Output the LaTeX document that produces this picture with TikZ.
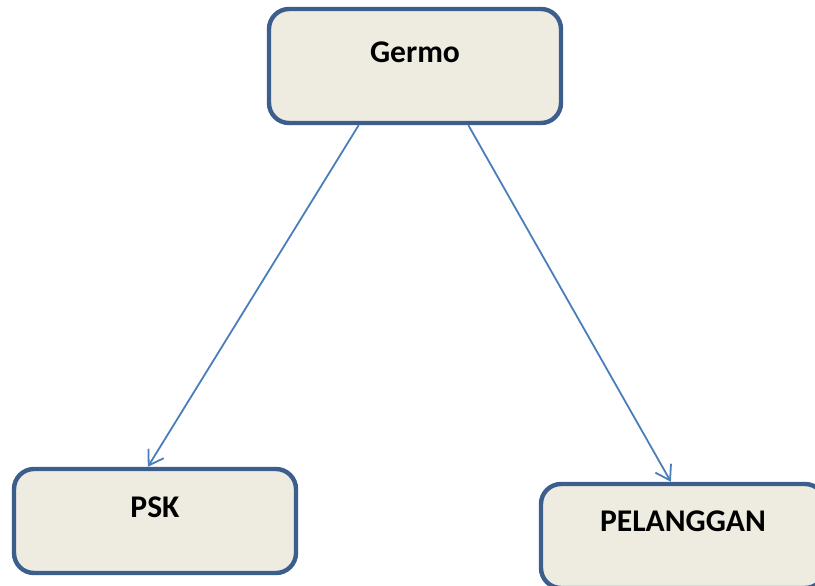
\documentclass[tikz,border=0pt]{standalone}
\usepackage{fontspec}
\setmainfont{Carlito}
\usetikzlibrary{calc,arrows.meta}

\definecolor{boxline}{HTML}{3B5E8C}
\definecolor{boxfill}{HTML}{EEECE1}
\definecolor{arrline}{HTML}{4A7EBB}

\begin{document}
\begin{tikzpicture}[x=0.5pt,y=-0.5pt]

% ---------- frame ----------
\useasboundingbox (0,0) rectangle (815,585);
\clip (0,0) rectangle (815,585);

% ---------- styles ----------
\tikzset{
  role/.style={draw=boxline,fill=boxfill,line width=2.2pt,rounded corners=10pt,
    inner xsep=0pt,inner ysep=0pt,font=\bfseries\fontsize{15.8}{19}\selectfont},
  link/.style={draw=arrline,line width=0.9pt,-{Straight Barb[length=7pt,width=9pt]}}
}

% ---------- boxes ----------
\node[role,minimum width=146pt,text height=26.5pt,text depth=30.5pt] (germo) at (415,66) {Germo};
\node[role,minimum width=141pt,text height=24pt,text depth=28pt] (psk) at (155,521) {PSK};
\node[role,minimum width=142pt,text height=23.5pt,text depth=28.5pt] (pelanggan) at (683,536) {PELANGGAN};

% ---------- arrows ----------
\draw[link] ($(germo.south west)!0.31!(germo.south east)$) -- ($(psk.north west)!0.475!(psk.north east)$);
\draw[link] ($(germo.south west)!0.68!(germo.south east)$) -- ($(pelanggan.north west)!0.458!(pelanggan.north east)$);

\end{tikzpicture}
\end{document}
